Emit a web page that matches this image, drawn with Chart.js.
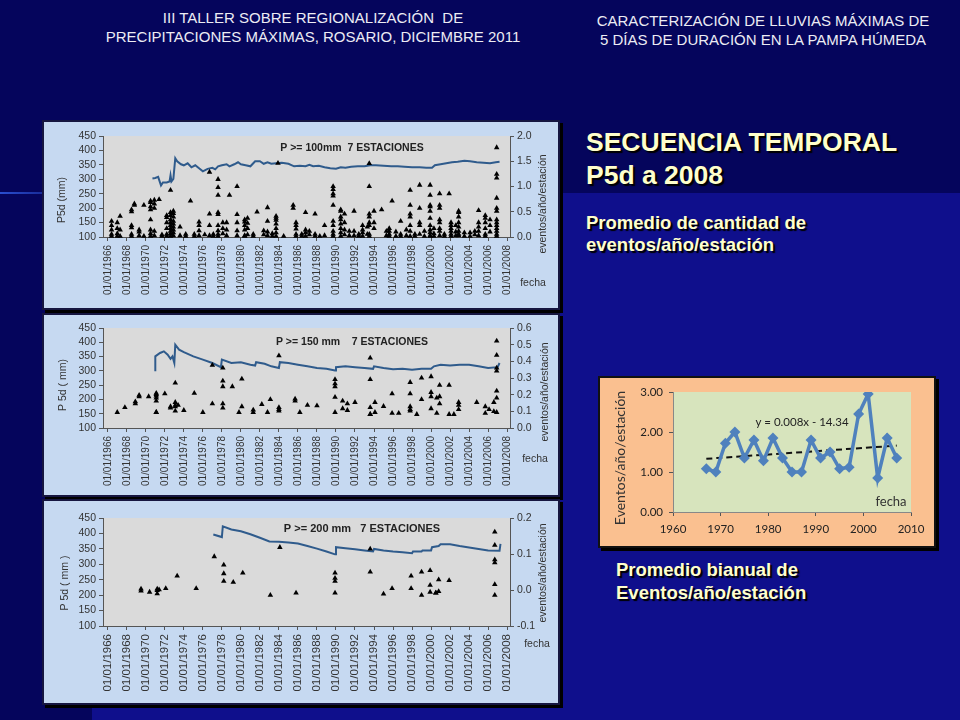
<!DOCTYPE html>
<html>
<head>
<meta charset="utf-8">
<script src="https://cdn.jsdelivr.net/npm/chart.js@4.4.1/dist/chart.umd.min.js"></script>
<style>
  body { margin: 0; width: 960px; height: 720px; overflow: hidden; background: #0f0f8c; position: relative; font-family: "Liberation Sans", Arial, sans-serif; }
  .band-top { position: absolute; left: 0; top: 0; width: 960px; height: 193px; background: #05055c; }
  .band-left { position: absolute; left: 0; top: 0; width: 92px; height: 720px; background: #05055c; }
  .streak { position: absolute; left: 0; top: 192px; width: 92px; height: 2px; background: linear-gradient(90deg, #2a4fd0, #05055c); }
  .hdr { position: absolute; color: #ececf4; font-size: 15px; text-align: center; line-height: 19px; }
  .ttl { position: absolute; color: #ffffcc; font-weight: bold; text-shadow: 2px 2px 1px #000; white-space: nowrap; }
  .panel { position: absolute; box-sizing: border-box; border: 2px solid #161640; background: #c6d9f1; box-shadow: 3px 3px 0 #000; }
  .panel canvas { position: absolute; left: 0; top: 0; }
  .orange { background: #fac090; border: 2px solid #111; box-shadow: 3px 3px 0 #000; }
</style>
</head>
<body>
<div class="band-top"></div>
<div class="band-left"></div>
<div class="streak"></div>

<div class="hdr" style="left:63px; top:8px; width:500px;">III TALLER SOBRE REGIONALIZACIÓN&nbsp; DE<br>PRECIPITACIONES MÁXIMAS, ROSARIO, DICIEMBRE 2011</div>
<div class="hdr" style="left:513px; top:11px; width:500px;">CARACTERIZACIÓN DE LLUVIAS MÁXIMAS DE<br>5 DÍAS DE DURACIÓN EN LA PAMPA HÚMEDA</div>

<div class="ttl" style="left:586px; top:126px; font-size:26.5px; line-height:33px;">SECUENCIA TEMPORAL<br>P5d a 2008</div>
<div class="ttl" style="left:586px; top:212px; font-size:18.5px; line-height:22px;">Promedio de cantidad de<br>eventos/año/estación</div>
<div class="ttl" style="left:616px; top:558px; font-size:18.5px; line-height:23px;">Promedio bianual de<br>Eventos/año/estación</div>

<div class="panel" style="left:42px; top:120px; width:518px; height:190px;"><canvas id="c100" width="514" height="186"></canvas></div>
<div class="panel" style="left:42px; top:313px; width:518px; height:184px;"><canvas id="c150" width="514" height="180"></canvas></div>
<div class="panel" style="left:42px; top:499px; width:518px; height:206px;"><canvas id="c200" width="514" height="202"></canvas></div>
<div class="panel orange" style="left:598px; top:376px; width:338px; height:172px;"><canvas id="cbi" width="334" height="168"></canvas></div>

<script>
// fechas del eje x
const tickYears = [1966, 1968, 1970, 1972, 1974, 1976, 1978, 1980, 1982, 1984, 1986, 1988, 1990, 1992, 1994, 1996, 1998, 2000, 2002, 2004, 2006, 2008];
const tickLabels = ["01/01/1966", "01/01/1968", "01/01/1970", "01/01/1972", "01/01/1974", "01/01/1976", "01/01/1978", "01/01/1980", "01/01/1982", "01/01/1984", "01/01/1986", "01/01/1988", "01/01/1990", "01/01/1992", "01/01/1994", "01/01/1996", "01/01/1998", "01/01/2000", "01/01/2002", "01/01/2004", "01/01/2006", "01/01/2008"];
const mmTicks = [100, 150, 200, 250, 300, 350, 400, 450];

// eventos P5d (mm): [fecha, valores...]
const ev100 = [
  [1966.4, 155, 140, 125, 110, 103], [1967.0, 150, 130, 112, 103], [1967.3, 172, 125, 103],
  [1968.5, 195, 188, 140, 132, 110, 103], [1968.8, 215, 210], [1969.3, 125, 118, 105], [1969.8, 210, 103],
  [1970.5, 225, 220, 205, 195, 160, 125, 112, 103], [1970.9, 228, 215, 200, 120, 105], [1971.4, 230], [1971.7, 103, 108],
  [1972.2, 175, 168, 150, 130, 110, 103], [1972.6, 262, 185, 175, 160, 150, 140, 130, 120, 112, 103],
  [1972.9, 190, 182, 170, 155, 145, 135, 125, 115, 105], [1973.6, 135, 105], [1974.2, 110, 103], [1974.7, 225],
  [1975.1, 110, 103], [1975.6, 152, 140, 122, 105], [1976.2, 108], [1976.7, 325, 180, 140, 105], [1977.1, 110, 103],
  [1977.6, 300, 272, 245, 185, 178, 140, 122, 110, 103], [1978.1, 150, 130, 112], [1978.5, 150, 125, 105], [1978.8, 245],
  [1979.6, 275, 178, 150, 122, 105], [1980.4, 160, 152, 140, 125, 105, 103], [1980.7, 165, 148, 130, 108],
  [1981.3, 110, 103], [1981.7, 187], [1982.4, 122, 108], [1982.8, 202, 155, 118, 105], [1983.3, 112, 103],
  [1983.7, 172, 165, 158, 145, 130, 115, 103], [1983.9, 356], [1984.5, 103], [1985.5, 210, 200],
  [1985.8, 150, 140, 128, 110, 103], [1986.4, 103, 110], [1986.8, 185, 125, 115, 103], [1987.2, 120, 108],
  [1987.8, 180, 110, 103], [1988.3, 103], [1988.8, 140, 105], [1989.7, 275, 265, 250, 242, 210, 155, 140, 120, 110, 103],
  [1990.5, 195, 190, 170, 160, 145, 130, 115, 103], [1990.9, 180, 150, 125, 108], [1991.4, 120, 105],
  [1991.9, 190, 120, 105], [1992.4, 110, 103], [1992.8, 140, 125, 115, 103], [1993.3, 135, 110],
  [1993.5, 355, 275, 180, 170, 150, 140, 110, 103], [1994.0, 190, 150, 130], [1994.8, 195], [1995.3, 120, 105],
  [1995.6, 130, 120, 110, 103], [1995.9, 225], [1996.3, 118, 103], [1996.8, 155, 110, 103], [1997.4, 125, 105],
  [1997.8, 262, 210, 180, 170, 140, 120, 103], [1998.3, 110, 103], [1998.8, 280, 200, 150, 140, 110], [1999.3, 120, 103],
  [1999.9, 280, 245, 210, 205, 190, 165, 140, 125, 115, 105, 103], [2000.3, 130, 112, 103],
  [2000.9, 250, 210, 200, 160, 150, 130, 120, 105], [2001.4, 110, 103], [2001.9, 250], [2002.1, 150, 140, 130, 120, 110, 103],
  [2002.6, 140, 118, 105], [2002.9, 190, 185, 170, 150, 135, 120, 110, 105], [2003.5, 115, 103], [2004.1, 115, 103],
  [2004.6, 120, 108], [2005.0, 192, 150, 135, 120, 105], [2005.7, 175, 165, 150, 130, 110, 103], [2006.2, 160, 140, 118],
  [2006.9, 410, 318, 305, 235, 200, 190, 160, 150, 140, 130, 120, 110, 103]
];
const ev150 = [
  [1967.0, 155], [1967.8, 172], [1968.9, 192, 185], [1969.3, 215, 210], [1970.3, 210],
  [1971.1, 222, 218, 212, 205, 195, 155, 155], [1972.0, 220], [1972.6, 175, 170], [1973.1, 258, 190, 180, 175, 160],
  [1973.4, 180], [1974.0, 162], [1975.1, 222], [1976.0, 155], [1977.0, 320, 185], [1978.1, 310, 265, 245, 185, 170],
  [1979.1, 245], [1979.8, 155], [1980.1, 272, 175], [1981.3, 163, 155], [1982.2, 183], [1982.8, 155], [1983.1, 200],
  [1984.0, 353, 172, 165, 160], [1985.7, 202, 195], [1986.2, 155], [1987.0, 180], [1988.0, 178],
  [1989.9, 270, 255, 245, 208, 155], [1990.7, 195, 168], [1991.2, 185, 162], [1992.0, 190],
  [1993.6, 345, 270, 172, 148, 148], [1994.1, 190, 155], [1995.0, 176], [1995.9, 220, 152], [1996.6, 152],
  [1997.8, 260, 220, 175, 165, 160], [1998.5, 148], [1999.0, 275, 200], [2000.0, 280, 225, 210, 168],
  [2000.6, 205, 152], [2000.9, 250, 210, 185], [2001.9, 250, 148], [2002.4, 148], [2002.9, 190, 180, 165],
  [2004.8, 190], [2005.7, 175, 152], [2006.1, 165], [2006.6, 190, 158], [2006.9, 405, 355, 310, 300, 230, 205, 155]
];
const ev200 = [
  [1969.5, 220, 214], [1970.4, 210], [1971.2, 220, 215, 205], [1971.4, 218], [1972.1, 222], [1973.3, 262],
  [1975.3, 222], [1977.2, 325], [1978.2, 298, 270, 245], [1979.2, 242], [1980.2, 272], [1983.1, 200], [1984.1, 355],
  [1985.8, 207], [1989.9, 272, 255, 245, 207], [1993.6, 350, 275], [1995.0, 204], [1995.9, 222],
  [1997.9, 262, 222], [1999.0, 275, 200], [1999.9, 280, 232, 210], [2000.5, 207, 207], [2000.8, 250, 212],
  [2001.9, 248], [2006.7, 405, 362, 315, 305, 235, 200]
];

// eventos/año/estación: [fecha, valor]
const rate100 = [
  [1970.7, 1.16], [1971.0, 1.17], [1971.3, 1.19], [1971.6, 1.02], [1971.8, 1.08], [1972.2, 1.08], [1972.5, 1.10],
  [1972.6, 1.22], [1972.7, 1.10], [1972.9, 1.15], [1973.1, 1.56], [1973.3, 1.50], [1973.7, 1.44], [1974.0, 1.42],
  [1974.4, 1.46], [1974.8, 1.38], [1975.2, 1.42], [1975.6, 1.36], [1976.0, 1.30], [1976.5, 1.35], [1977.0, 1.37],
  [1977.3, 1.34], [1977.6, 1.40], [1978.0, 1.42], [1978.5, 1.44], [1978.8, 1.40], [1979.3, 1.44], [1979.7, 1.48],
  [1980.0, 1.44], [1980.5, 1.42], [1981.0, 1.40], [1981.5, 1.50], [1982.0, 1.50], [1982.4, 1.45], [1982.8, 1.48],
  [1983.2, 1.45], [1983.7, 1.46], [1984.3, 1.47], [1985.0, 1.45], [1985.6, 1.40], [1986.2, 1.41], [1986.8, 1.40],
  [1987.2, 1.43], [1987.6, 1.40], [1988.2, 1.41], [1988.8, 1.38], [1989.4, 1.36], [1990.0, 1.35], [1990.5, 1.38],
  [1991.0, 1.37], [1991.6, 1.39], [1992.3, 1.40], [1993.0, 1.40], [1993.6, 1.42], [1994.2, 1.42], [1995.0, 1.41],
  [1995.8, 1.40], [1996.5, 1.40], [1997.2, 1.39], [1998.0, 1.38], [1998.8, 1.38], [1999.5, 1.37], [2000.1, 1.37],
  [2000.4, 1.42], [2001.0, 1.44], [2001.6, 1.46], [2002.2, 1.48], [2002.8, 1.49], [2003.5, 1.51], [2004.1, 1.50],
  [2004.8, 1.48], [2005.5, 1.47], [2006.2, 1.46], [2006.8, 1.48], [2007.2, 1.49]
];
const rate150 = [
  [1971.0, 0.34], [1971.0, 0.43], [1971.5, 0.45], [1971.9, 0.46], [1972.3, 0.44], [1972.6, 0.415], [1972.8, 0.43],
  [1973.0, 0.39], [1973.1, 0.50], [1973.5, 0.47], [1974.0, 0.455], [1975.0, 0.43], [1976.0, 0.41], [1977.0, 0.39],
  [1977.9, 0.365], [1978.0, 0.41], [1979.0, 0.39], [1980.0, 0.395], [1981.0, 0.38], [1981.5, 0.375], [1981.6, 0.395],
  [1982.5, 0.385], [1983.2, 0.37], [1984.0, 0.36], [1984.1, 0.395], [1985.0, 0.39], [1986.0, 0.38], [1987.0, 0.37],
  [1988.0, 0.36], [1989.0, 0.355], [1989.9, 0.345], [1990.0, 0.365], [1991.0, 0.37], [1992.0, 0.365], [1993.0, 0.36],
  [1993.9, 0.355], [1994.0, 0.37], [1995.0, 0.36], [1996.0, 0.352], [1997.0, 0.355], [1998.0, 0.35], [1999.0, 0.355],
  [2000.0, 0.355], [2000.3, 0.37], [2001.0, 0.38], [2002.0, 0.375], [2003.0, 0.38], [2004.0, 0.38], [2005.0, 0.37],
  [2006.0, 0.36], [2007.0, 0.365], [2007.2, 0.39]
];
const rate200 = [
  [1977.1, 0.154], [1978.0, 0.147], [1978.1, 0.177], [1979.0, 0.168], [1980.0, 0.163], [1981.0, 0.155], [1982.0, 0.145],
  [1983.0, 0.135], [1984.0, 0.134], [1985.0, 0.132], [1986.0, 0.129], [1987.0, 0.122], [1988.0, 0.115], [1989.0, 0.107],
  [1989.9, 0.099], [1990.0, 0.119], [1991.0, 0.116], [1992.0, 0.113], [1993.0, 0.110], [1993.9, 0.107], [1994.0, 0.114],
  [1995.0, 0.110], [1996.0, 0.107], [1997.0, 0.105], [1998.0, 0.102], [1998.1, 0.107], [1999.0, 0.107], [1999.1, 0.110],
  [2000.0, 0.110], [2000.1, 0.119], [2000.8, 0.122], [2001.0, 0.127], [2002.0, 0.127], [2003.0, 0.122], [2004.0, 0.118],
  [2005.0, 0.114], [2006.0, 0.110], [2007.2, 0.109], [2007.3, 0.128]
];

// promedio bianual
const bienYears = [1967, 1969, 1971, 1973, 1975, 1977, 1979, 1981, 1983, 1985, 1987, 1989, 1991, 1993, 1995, 1997, 1999, 2001, 2003, 2005, 2007];
const bienRate = [1.08, 1.00, 1.72, 2.00, 1.35, 1.80, 1.28, 1.85, 1.35, 1.00, 1.00, 1.80, 1.35, 1.50, 1.08, 1.12, 2.45, 2.95, 0.85, 1.85, 1.35];
const trendYears = [1967, 2007];
const trendRate = [1.33, 1.66];

Chart.defaults.font.family = '"Liberation Sans", Arial, sans-serif';
Chart.defaults.color = '#333';
Chart.defaults.animation = false;

// fondo del area y textos sueltos
const decor = {
  id: 'decor',
  beforeDraw(chart, args, opts) {
    const a = chart.chartArea, ctx = chart.ctx;
    if (opts.fill) {
      ctx.save();
      ctx.fillStyle = opts.fill;
      ctx.fillRect(a.left, a.top, a.right - a.left, a.bottom - a.top);
      ctx.restore();
    }
  },
  afterDraw(chart, args, opts) {
    const ctx = chart.ctx;
    (opts.texts || []).forEach(t => {
      ctx.save();
      ctx.translate(t.x, t.y);
      ctx.rotate((t.rot || 0) * Math.PI / 180);
      ctx.font = t.font;
      ctx.fillStyle = t.color || '#333';
      ctx.textAlign = 'center';
      ctx.textBaseline = 'middle';
      ctx.fillText(t.text, 0, 0);
      ctx.restore();
    });
  }
};
Chart.register(decor);

const toPoints = clusters => clusters.flatMap(c => c.slice(1).map(v => ({ x: c[0], y: v })));
const toLine = pairs => pairs.map(p => ({ x: p[0], y: p[1] }));

const axisLook = { display: true, drawOnChartArea: false, drawTicks: true, tickLength: 4, color: '#555' };

function seriesChart(id, ev, rate, cfg) {
  new Chart(document.getElementById(id), {
    type: 'scatter',
    data: {
      datasets: [
        { data: toLine(rate), yAxisID: 'y2', showLine: true, borderColor: '#2f5b8c', borderWidth: 2, pointRadius: 0, order: 2 },
        { data: toPoints(ev), yAxisID: 'y', pointStyle: 'triangle', pointRadius: 3.2, backgroundColor: '#000', borderWidth: 0, order: 1, clip: false }
      ]
    },
    options: {
      responsive: false,
      layout: { padding: { top: cfg.top, left: 0, right: 0, bottom: 0 } },
      plugins: {
        legend: { display: false }, tooltip: { enabled: false },
        decor: { fill: '#dadada', texts: cfg.texts }
      },
      scales: {
        x: {
          type: 'linear', min: 1965.5, max: 2008.3,
          afterBuildTicks: s => { s.ticks = tickYears.map(v => ({ value: v })); },
          afterFit: s => { s.height = cfg.bottom; },
          ticks: { autoSkip: false, minRotation: 90, maxRotation: 90, padding: 4, font: { size: cfg.xFont },
                   callback: v => tickLabels[tickYears.indexOf(v)] },
          grid: axisLook, border: { display: true, color: '#555' }
        },
        y: {
          position: 'left', min: 100, max: 450,
          afterBuildTicks: s => { s.ticks = mmTicks.map(v => ({ value: v })); },
          afterFit: s => { s.width = 59; },
          ticks: { autoSkip: false, padding: 3, font: { size: 10.5 }, callback: v => String(v) },
          grid: axisLook, border: { display: true, color: '#555' }
        },
        y2: {
          position: 'right', min: cfg.rMin, max: cfg.rMax,
          afterBuildTicks: s => { s.ticks = cfg.rTicks.map(v => ({ value: v })); },
          afterFit: s => { s.width = 48; },
          ticks: { autoSkip: false, padding: 3, font: { size: 10.5 }, callback: v => v.toFixed(1) },
          grid: axisLook, border: { display: true, color: '#555' }
        }
      }
    }
  });
}

seriesChart('c100', ev100, rate100, {
  top: 14, bottom: 71, xFont: 10, rMin: 0, rMax: 2, rTicks: [0, 0.5, 1, 1.5, 2],
  texts: [
    { text: 'P >= 100mm  7 ESTACIONES', x: 308, y: 26, font: 'bold 10.5px "Liberation Sans"', color: '#222' },
    { text: 'P5d (mm)', x: 18, y: 78, rot: -90, font: '10.5px "Liberation Sans"' },
    { text: 'eventos/año/estación', x: 499, y: 82, rot: -90, font: '10.5px "Liberation Sans"' },
    { text: 'fecha', x: 489, y: 161, font: '10.5px "Liberation Sans"' }
  ]
});
seriesChart('c150', ev150, rate150, {
  top: 13, bottom: 67, xFont: 10, rMin: 0, rMax: 0.6, rTicks: [0, 0.1, 0.2, 0.3, 0.4, 0.5, 0.6],
  texts: [
    { text: 'P >= 150 mm    7 ESTACIONES', x: 308, y: 27, font: 'bold 10.5px "Liberation Sans"', color: '#222' },
    { text: 'P 5d ( mm)', x: 19, y: 70, rot: -90, font: '10.5px "Liberation Sans"' },
    { text: 'eventos/año/estación', x: 501, y: 77, rot: -90, font: '10.5px "Liberation Sans"' },
    { text: 'fecha', x: 491, y: 144, font: '10.5px "Liberation Sans"' }
  ]
});
seriesChart('c200', ev200, rate200, {
  top: 17, bottom: 77, xFont: 11.5, rMin: -0.1, rMax: 0.2, rTicks: [-0.1, 0, 0.1, 0.2],
  texts: [
    { text: 'P >= 200 mm   7 ESTACIONES', x: 318, y: 28, font: 'bold 11px "Liberation Sans"', color: '#222' },
    { text: 'P 5d ( mm )', x: 21, y: 82, rot: -90, font: '10.5px "Liberation Sans"' },
    { text: 'eventos/año/estación', x: 499, y: 72, rot: -90, font: '10.5px "Liberation Sans"' },
    { text: 'fecha', x: 493, y: 143, font: '10.5px "Liberation Sans"' }
  ]
});

// grafico bianual
new Chart(document.getElementById('cbi'), {
  type: 'scatter',
  data: {
    datasets: [
      { data: bienYears.map((x, i) => ({ x, y: bienRate[i] })), showLine: true, borderColor: '#4f81bd', borderWidth: 3.5,
        pointStyle: 'rectRot', pointRadius: 5.5, backgroundColor: '#4f81bd', pointBorderWidth: 0 },
      { data: trendYears.map((x, i) => ({ x, y: trendRate[i] })), showLine: true, borderColor: '#111', borderWidth: 2,
        borderDash: [6, 4], pointRadius: 0 }
    ]
  },
  options: {
    responsive: false,
    layout: { padding: { top: 14, right: 23, left: 0, bottom: 0 } },
    plugins: {
      legend: { display: false }, tooltip: { enabled: false },
      decor: {
        fill: '#d7e4bd',
        texts: [
          { text: 'Eventos/año/estación', x: 20, y: 80, rot: -90, font: '14px Lato', color: '#333' },
          { text: 'y = 0.008x - 14.34', x: 202, y: 44, font: '11.5px Lato', color: '#222' },
          { text: 'fecha', x: 291, y: 124, font: '13px Lato', color: '#333' }
        ]
      }
    },
    scales: {
      x: {
        type: 'linear', min: 1960, max: 2010,
        ticks: { stepSize: 10, padding: 6, font: { family: 'Lato', size: 11.5 }, color: '#222', callback: v => String(v) },
        afterFit: s => { s.height = 34; },
        grid: axisLook, border: { display: true, color: '#888' }
      },
      y: {
        min: 0, max: 3,
        ticks: { stepSize: 1, padding: 6, font: { family: 'Lato', size: 11.5 }, color: '#222', callback: v => v.toFixed(2) },
        afterFit: s => { s.width = 73; },
        grid: axisLook, border: { display: true, color: '#888' }
      }
    }
  }
});
</script>
</body>
</html>
